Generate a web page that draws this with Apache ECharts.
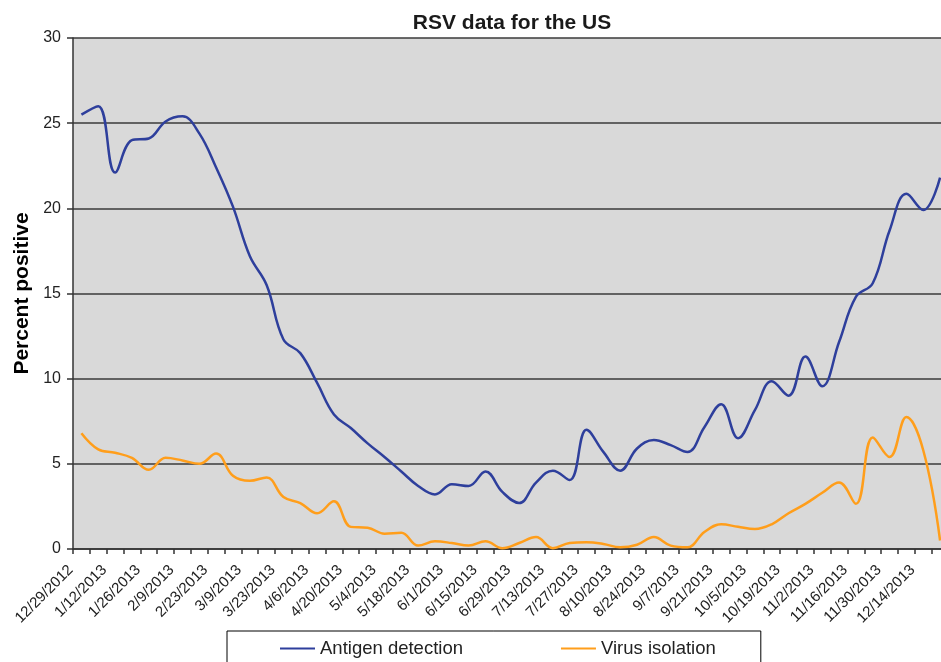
<!DOCTYPE html>
<html>
<head>
<meta charset="utf-8">
<script src="https://cdn.jsdelivr.net/npm/echarts@6/dist/echarts.min.js"></script>
<style>
html,body{margin:0;padding:0;background:#fff;overflow:hidden;width:941px;height:662px;}
#chart{width:949px;height:662px;}
</style>
</head>
<body>
<div id="chart"></div>
<script>
const weeks = ["12/29/2012","1/5/2013","1/12/2013","1/19/2013","1/26/2013","2/2/2013","2/9/2013","2/16/2013","2/23/2013","3/2/2013","3/9/2013","3/16/2013","3/23/2013","3/30/2013","4/6/2013","4/13/2013","4/20/2013","4/27/2013","5/4/2013","5/11/2013","5/18/2013","5/25/2013","6/1/2013","6/8/2013","6/15/2013","6/22/2013","6/29/2013","7/6/2013","7/13/2013","7/20/2013","7/27/2013","8/3/2013","8/10/2013","8/17/2013","8/24/2013","8/31/2013","9/7/2013","9/14/2013","9/21/2013","9/28/2013","10/5/2013","10/12/2013","10/19/2013","10/26/2013","11/2/2013","11/9/2013","11/16/2013","11/23/2013","11/30/2013","12/7/2013","12/14/2013","12/21/2013"];

const antigenDetection = [25.5,26.0,22.1,24.0,24.1,25.1,25.4,24.4,22.4,20.1,17.2,15.5,12.3,11.5,9.75,7.9,7.1,6.2,5.4,4.55,3.7,3.2,3.8,3.7,4.55,3.35,2.7,3.9,4.6,4.05,7.0,5.7,4.6,5.9,6.4,6.1,5.7,7.15,8.5,6.5,8.15,9.85,9.0,11.3,9.55,12.15,14.8,15.6,18.7,20.85,19.9,21.8];

const virusIsolation = [6.8,5.85,5.65,5.35,4.65,5.35,5.2,5.0,5.6,4.3,4.0,4.2,3.05,2.7,2.1,2.8,1.3,1.25,0.9,0.95,0.2,0.45,0.35,0.2,0.45,0.05,0.35,0.7,0.05,0.35,0.4,0.3,0.1,0.25,0.7,0.2,0.1,1.0,1.45,1.3,1.17,1.45,2.1,2.65,3.3,3.9,2.65,6.55,5.4,7.75,5.8,0.5];

const yTicks = {min:0, max:30, interval:5};

const chart = echarts.init(document.getElementById('chart'));
const font = 'Liberation Sans, Arial, sans-serif';
chart.setOption({
  animation:false,
  backgroundColor:'#ffffff',
  title:{
    text:'RSV data for the US',
    left:507, top:8, textAlign:'center',
    textStyle:{fontFamily:font,fontSize:21,fontWeight:'bold',color:'#1a1a1a'}
  },
  grid:{
    left:73, top:38, width:875.5, height:511,
    show:true, backgroundColor:'#D9D9D9', borderWidth:0
  },
  legend:{
    left:227, top:631,
    padding:[8,45,14,53],
    itemGap:98, itemWidth:35, itemHeight:2,
    borderColor:'#000', borderWidth:1,
    icon:'rect',
    textStyle:{fontFamily:font,fontSize:18.5,color:'#222'},
    data:['Antigen detection','Virus isolation']
  },
  xAxis:{
    type:'category',
    data:weeks,
    boundaryGap:true,
    axisLine:{lineStyle:{color:'#333',width:1.5}},
    axisTick:{show:true,interval:0,length:5,lineStyle:{color:'#333',width:1.5}},
    axisLabel:{
      interval:1, rotate:45, margin:8, padding:[0,15,0,0],
      fontFamily:font, fontSize:15, color:'#222'
    }
  },
  yAxis:{
    type:'value',
    min:yTicks.min, max:yTicks.max, interval:yTicks.interval,
    name:'Percent positive',
    nameLocation:'middle', nameGap:40, nameRotate:90,
    nameTextStyle:{fontFamily:font,fontSize:21,fontWeight:'bold',color:'#000'},
    axisLine:{show:true,lineStyle:{color:'#333',width:1.5}},
    axisTick:{show:true,length:6,lineStyle:{color:'#333',width:1.5}},
    axisLabel:{fontFamily:font,fontSize:16,color:'#222',margin:12},
    splitLine:{show:true,lineStyle:{color:'#3a3a3a',width:1.5}}
  },
  series:[
    {
      name:'Antigen detection', type:'line', data:antigenDetection,
      smooth:0.4, showSymbol:false, symbol:'none',
      itemStyle:{color:'#2E3F9C'},
      lineStyle:{color:'#2E3F9C',width:2.5}
    },
    {
      name:'Virus isolation', type:'line', data:virusIsolation,
      smooth:0.4, showSymbol:false, symbol:'none',
      itemStyle:{color:'#FF9E1B'},
      lineStyle:{color:'#FF9E1B',width:2.5}
    }
  ]
});
</script>
</body>
</html>
